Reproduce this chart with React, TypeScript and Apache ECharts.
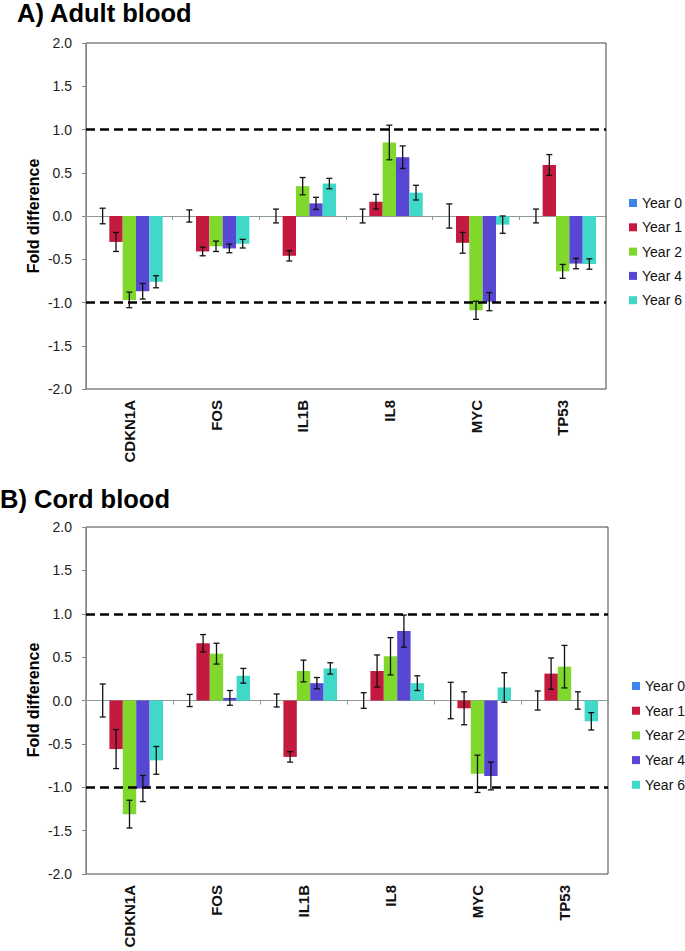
import React, { useEffect, useRef } from "react";
import * as echarts from "echarts";

const FONT = '"Liberation Sans", Arial, Helvetica, sans-serif';

const categories = ["CDKN1A", "FOS", "IL1B", "IL8", "MYC", "TP53"];
const years = ["Year 0", "Year 1", "Year 2", "Year 4", "Year 6"];
const yearColors = ["#3d85ee", "#c41a3f", "#7fd82b", "#5847d2", "#3fd8c9"];
const yTicks = [-2, -1.5, -1, -0.5, 0, 0.5, 1, 1.5, 2];

// A) Adult blood — mean fold difference per year (rows) and gene (columns)
const adultYear0 = [0, 0, 0, 0, 0, 0];
const adultYear1 = [-0.3, -0.41, -0.46, 0.165, -0.31, 0.59];
const adultYear2 = [-0.97, -0.35, 0.345, 0.85, -1.09, -0.64];
const adultYear4 = [-0.87, -0.375, 0.146, 0.68, -0.99, -0.55];
const adultYear6 = [-0.76, -0.32, 0.375, 0.27, -0.1, -0.555];
// error bar half-lengths
const adultErr0 = [0.09, 0.07, 0.08, 0.08, 0.14, 0.08];
const adultErr1 = [0.11, 0.05, 0.06, 0.085, 0.12, 0.12];
const adultErr2 = [0.09, 0.06, 0.1, 0.2, 0.105, 0.08];
const adultErr4 = [0.09, 0.05, 0.07, 0.13, 0.105, 0.06];
const adultErr6 = [0.07, 0.05, 0.06, 0.085, 0.1, 0.06];

// B) Cord blood
const cordYear0 = [0, 0, 0, 0, 0, 0];
const cordYear1 = [-0.56, 0.66, -0.65, 0.34, -0.09, 0.31];
const cordYear2 = [-1.31, 0.54, 0.34, 0.51, -0.845, 0.39];
const cordYear4 = [-1.015, 0.03, 0.2, 0.8, -0.87, 0.0];
const cordYear6 = [-0.69, 0.285, 0.37, 0.2, 0.15, -0.24];
const cordErr0 = [0.19, 0.07, 0.075, 0.09, 0.21, 0.11];
const cordErr1 = [0.225, 0.1, 0.06, 0.185, 0.19, 0.18];
const cordErr2 = [0.16, 0.12, 0.125, 0.215, 0.215, 0.245];
const cordErr4 = [0.15, 0.085, 0.065, 0.185, 0.16, 0.1];
const cordErr6 = [0.16, 0.085, 0.065, 0.085, 0.17, 0.1];

const thresholds = [1, -1];

const panels = [
  {
    title: "A) Adult blood",
    means: [adultYear0, adultYear1, adultYear2, adultYear4, adultYear6],
    errs: [adultErr0, adultErr1, adultErr2, adultErr4, adultErr6],
  },
  {
    title: "B) Cord blood",
    means: [cordYear0, cordYear1, cordYear2, cordYear4, cordYear6],
    errs: [cordErr0, cordErr1, cordErr2, cordErr4, cordErr6],
  },
];

const CAT_GAP = 0.23;

export default function App() {
  const ref = useRef<HTMLDivElement>(null);

  useEffect(() => {
    if (!ref.current) return;
    const chart = echarts.init(ref.current, undefined, { renderer: "svg" });

    const grids = [
      { left: 86, top: 43, width: 520, height: 346 },
      { left: 86, top: 527, width: 522, height: 347 },
    ];

    const xAxis: any[] = [];
    const yAxis: any[] = [];
    const series: any[] = [];

    panels.forEach((p, g) => {
      xAxis.push({
        type: "category",
        gridIndex: g,
        data: categories,
        position: "bottom",
        axisLine: { show: true, onZero: true, lineStyle: { color: "#8e9a9a", width: 1 } },
        axisTick: { show: true, length: 4, lineStyle: { color: "#8e9a9a" } },
        axisLabel: { show: false },
        splitLine: { show: false },
      });
      xAxis.push({
        type: "category",
        gridIndex: g,
        data: categories,
        position: "bottom",
        axisLine: { show: false, onZero: false },
        axisTick: { show: false },
        axisLabel: {
          rotate: 90,
          margin: 11,
          fontSize: 15,
          fontWeight: "bold",
          color: "#111",
          fontFamily: FONT,
        },
        splitLine: { show: false },
      });
      yAxis.push({
        type: "value",
        gridIndex: g,
        min: yTicks[0],
        max: yTicks[yTicks.length - 1],
        interval: 0.5,
        axisLine: { show: true, lineStyle: { color: "#7f8b8b" } },
        axisTick: { show: true, length: 4, lineStyle: { color: "#7f8b8b" } },
        axisLabel: {
          formatter: (v: number) => v.toFixed(1),
          fontSize: 14,
          color: "#222",
          margin: 14,
          fontFamily: FONT,
        },
        splitLine: { show: false },
      });

      years.forEach((yr, i) => {
        const bar: any = {
          type: "bar",
          name: yr,
          xAxisIndex: g * 2,
          yAxisIndex: g,
          data: p.means[i],
          barGap: "0%",
          barCategoryGap: CAT_GAP * 100 + "%",
          itemStyle: { color: yearColors[i] },
          z: 2,
        };
        if (i === 0) {
          bar.markLine = {
            silent: true,
            symbol: "none",
            label: { show: false },
            lineStyle: { color: "#000", type: [9, 5], width: 2.5 },
            data: thresholds.map((t) => ({ yAxis: t })),
            z: 6,
          };
        }
        series.push(bar);
        series.push({
          type: "custom",
          xAxisIndex: g * 2,
          yAxisIndex: g,
          z: 5,
          data: categories.map((_, k) => [k, p.means[i][k], p.errs[i][k]]),
          encode: { x: 0, y: 1 },
          renderItem: (params: any, api: any) => {
            const cat = api.value(0);
            const v = api.value(1);
            const e = api.value(2);
            const bandW = api.size([1, 0])[0];
            const barW = (bandW * (1 - CAT_GAP)) / years.length;
            const c = api.coord([cat, v]);
            const x = c[0] + (i - (years.length - 1) / 2) * barW;
            const yt = api.coord([cat, v + e])[1];
            const yb = api.coord([cat, v - e])[1];
            const st = { stroke: "#111", lineWidth: 1.3 };
            const hw = 3;
            return {
              type: "group",
              children: [
                { type: "line", shape: { x1: x, y1: yt, x2: x, y2: yb }, style: st },
                { type: "line", shape: { x1: x - hw, y1: yt, x2: x + hw, y2: yt }, style: st },
                { type: "line", shape: { x1: x - hw, y1: yb, x2: x + hw, y2: yb }, style: st },
              ],
            };
          },
        });
      });
    });

    const titleFont = `bold 25.5px ${FONT}`;
    const nameFont = `bold 16px ${FONT}`;

    const option: any = {
      animation: false,
      backgroundColor: "#fff",
      textStyle: { fontFamily: FONT },
      grid: grids.map((gr) => ({
        ...gr,
        show: true,
        borderColor: "#444",
        borderWidth: 1,
        backgroundColor: "transparent",
        containLabel: false,
      })),
      legend: [
        {
          data: years,
          orient: "vertical",
          left: 629,
          top: 196,
          padding: 0,
          icon: "rect",
          itemWidth: 8,
          itemHeight: 8,
          itemGap: 10.3,
          selectedMode: false,
          textStyle: { fontSize: 14, color: "#111", fontFamily: FONT },
        },
        {
          data: years,
          orient: "vertical",
          left: 632,
          top: 679,
          padding: 0,
          icon: "rect",
          itemWidth: 8,
          itemHeight: 8,
          itemGap: 10.7,
          selectedMode: false,
          textStyle: { fontSize: 14, color: "#111", fontFamily: FONT },
        },
      ],
      xAxis,
      yAxis,
      series,
      graphic: [
        {
          type: "text",
          x: 17,
          y: 13,
          style: {
            text: panels[0].title,
            font: titleFont,
            lineHeight: 25,
            fill: "#000",
            align: "left",
            verticalAlign: "middle",
          },
        },
        {
          type: "text",
          x: 0,
          y: 499,
          style: {
            text: panels[1].title,
            font: titleFont,
            lineHeight: 25,
            fill: "#000",
            align: "left",
            verticalAlign: "middle",
          },
        },
        {
          type: "text",
          x: 33,
          y: 216,
          rotation: Math.PI / 2,
          style: {
            text: "Fold difference",
            font: nameFont,
            fill: "#000",
            align: "center",
            verticalAlign: "middle",
          },
        },
        {
          type: "text",
          x: 33,
          y: 700,
          rotation: Math.PI / 2,
          style: {
            text: "Fold difference",
            font: nameFont,
            fill: "#000",
            align: "center",
            verticalAlign: "middle",
          },
        },
      ],
    };

    chart.setOption(option);
    return () => chart.dispose();
  }, []);

  return (
    <div
      ref={ref}
      style={{ position: "absolute", left: 0, top: 0, width: 685, height: 951 }}
    />
  );
}
